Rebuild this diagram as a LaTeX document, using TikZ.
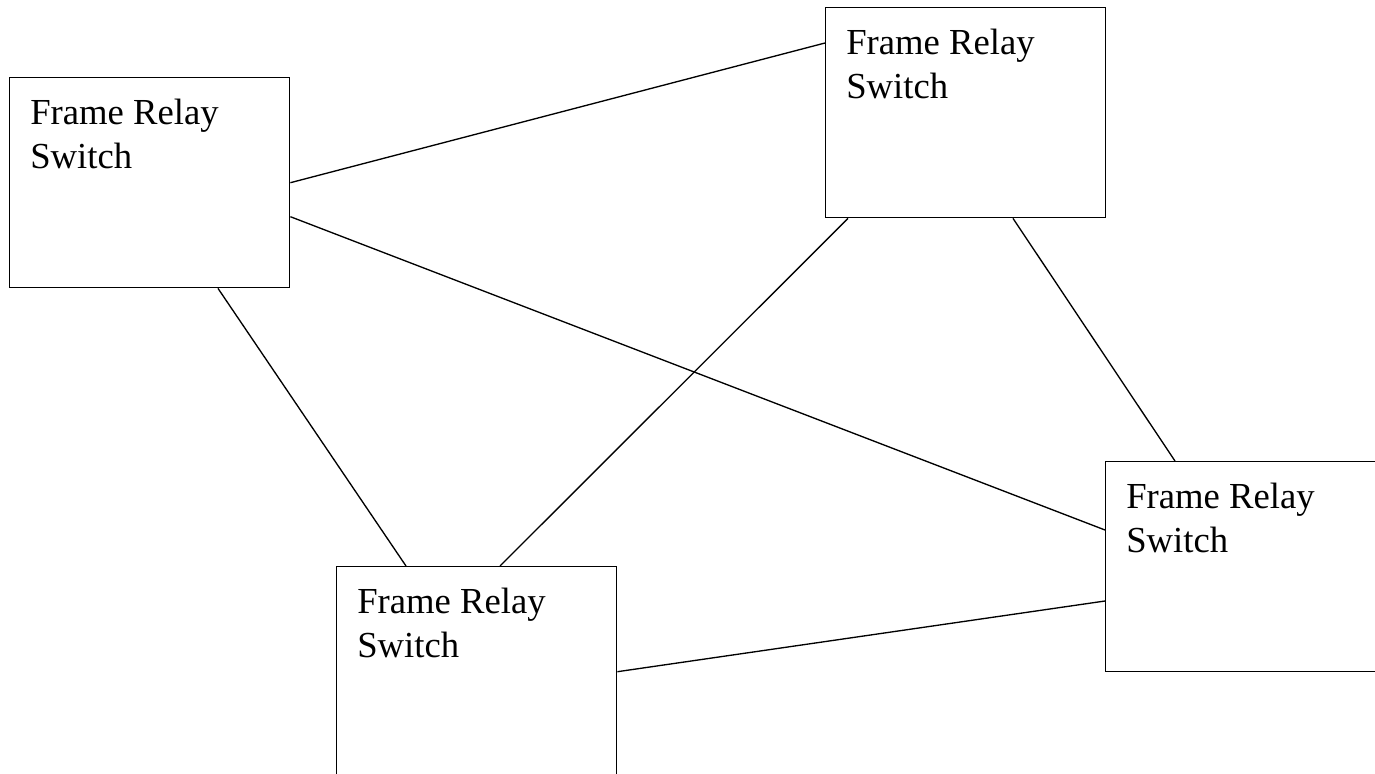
\documentclass[tikz,border=0pt]{standalone}
\usepackage{fontspec}
\setmainfont{Liberation Serif}
\usepackage{tikz}
\usepackage{xcolor}
\usetikzlibrary{calc}
\colorlet{linecolor}{black}
\tikzstyle{switchbox} = [
    draw=linecolor,
    line width=1.05pt,
    rectangle,
    anchor=north west,
    inner sep=0pt,
    minimum width=210pt,
    minimum height=157.5pt
    ]
\tikzstyle{switchlabel} = [
    anchor=north west,
    inner sep=0pt,
    align=left,
    font=\fontsize{27.5}{33}\selectfont
    ]
\tikzstyle{link} = [
    draw=linecolor,
    line width=1pt
    ]

\begin{document}
\begin{tikzpicture}[x=0.75pt, y=-0.75pt]
\useasboundingbox (0,0) rectangle (1375,774);
\clip (0,0) rectangle (1375,774);

\node [switchbox] (sw1) at (9,77) {};
\node [switchbox] (sw2) at (825,7) {};
\node [switchbox] (sw3) at (336,566) {};
\node [switchbox] (sw4) at (1105,461) {};

\foreach \s in {sw1,sw2,sw3,sw4}
    \node [switchlabel] (\s-text) at ($(\s.north west)+(21,22)$) {Frame Relay\\Switch};

% links between the switches
\draw [link] (sw1.east) -- ($(sw2.north west)+(0,36)$);
\draw [link] ($(sw1.east)+(0,34)$) -- ($(sw4.north west)+(0,69)$);
\draw [link] ($(sw1.south west)+(209,0)$) -- ($(sw3.north west)+(70,0)$);
\draw [link] ($(sw2.south west)+(23,0)$) -- ($(sw3.north west)+(164,0)$);
\draw [link] ($(sw2.south west)+(188,0)$) -- ($(sw4.north west)+(70,0)$);
\draw [link] (sw3.east) -- ($(sw4.north west)+(0,140)$);
\end{tikzpicture}
\end{document}
